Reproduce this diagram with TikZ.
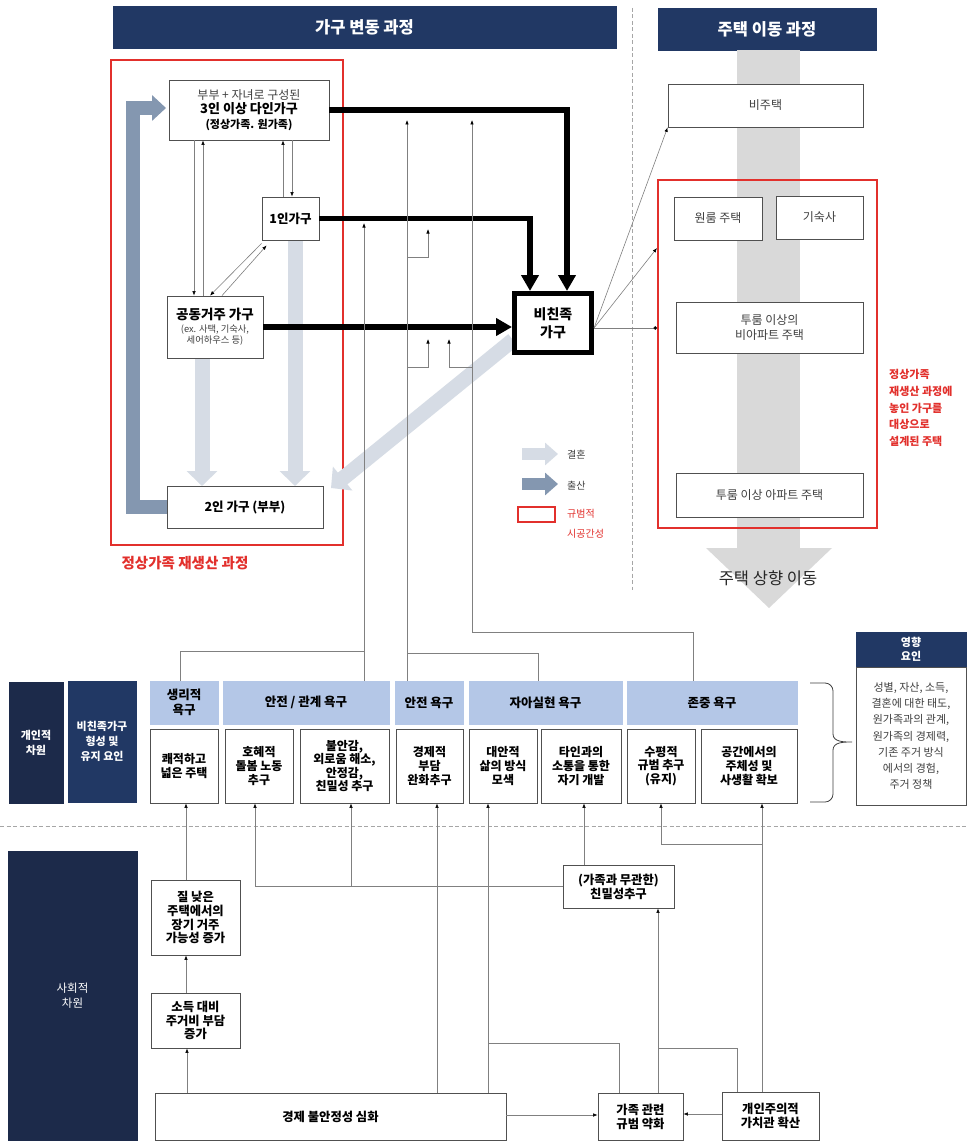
\documentclass[tikz,border=0pt]{standalone}
\usepackage{fontspec}
\setmainfont{Noto Sans CJK KR}
\usetikzlibrary{arrows.meta,calc}
\definecolor{navy}{RGB}{33,56,100}
\definecolor{navyd}{RGB}{28,42,74}
\definecolor{needb}{RGB}{180,199,231}
\definecolor{redc}{RGB}{226,48,44}
\definecolor{lightar}{RGB}{214,220,229}
\definecolor{darkar}{RGB}{132,151,176}
\definecolor{bandg}{RGB}{217,217,217}
\definecolor{linec}{RGB}{128,128,128}
\definecolor{boxd}{RGB}{80,80,80}
\definecolor{txtg}{RGB}{64,64,64}
\begin{document}
\begin{tikzpicture}[x=1pt,y=-1pt,
  sz/.style 2 args={minimum width=#1, minimum height=#2},
  box/.style={draw=boxd, line width=0.8pt, fill=white, align=center, inner sep=1pt, font=\fontsize{12}{13.6}\selectfont\bfseries},
  hbox/.style={draw=boxd, line width=0.8pt, fill=white, align=center, inner sep=1pt, text=txtg, font=\fontsize{12}{15}\selectfont},
  sbox/.style={box, font=\fontsize{12.3}{13.8}\selectfont\bfseries},
  hdr/.style={fill=navy, draw=navy, text=white, align=center, inner sep=0pt, font=\fontsize{16.5}{19}\selectfont\bfseries},
  dark/.style={fill=navyd, draw=navyd, text=white, align=center, inner sep=0pt, font=\fontsize{11}{15}\selectfont\bfseries},
  need/.style={fill=needb, draw=needb, align=center, inner sep=0pt, font=\fontsize{12.5}{14.5}\selectfont\bfseries},
  redbox/.style={draw=redc, line width=2pt, fill=none, inner sep=0pt},
  ln/.style={draw=linec, line width=0.6pt},
  arr/.style={ln, -{Latex[length=4.5pt,width=3.5pt,color=black]}},
  thk/.style={draw=black, line width=5.5pt, line join=miter, -{Triangle[width=17pt,length=16pt]}},
  lar/.style={draw=lightar, line width=15pt, -{Triangle[width=30pt,length=15pt]}},
  dar/.style={draw=darkar, line width=14pt, line join=miter, -{Triangle[width=25pt,length=14pt]}},
  legl/.style={draw=lightar, line width=12pt, -{Triangle[width=22pt,length=13pt]}},
  legd/.style={draw=darkar, line width=12pt, -{Triangle[width=22pt,length=13pt]}},
  lab/.style={inner sep=0pt, font=\fontsize{10}{12}\selectfont}
]
\useasboundingbox (0,0) rectangle (966,1142);
\fill[white] (0,0) rectangle (966,1142);

% ---------- headers ----------
\node[hdr, sz={503pt}{42pt}] (h1) at (364.5,27) {가구 변동 과정};
\node[hdr, sz={218pt}{42pt}] (h2) at (767,29) {주택 이동 과정};
\draw[gray!70, line width=0.9pt, dash pattern=on 4pt off 2.5pt] (632,8) -- (632,590);

% ---------- housing band ----------
\fill[bandg] (737,50) rectangle (800,549);
\fill[bandg] (706,548) -- (832,548) -- (769,608) -- cycle;
\node[font=\fontsize{16.5}{19}\selectfont, text=black!85, inner sep=0pt] (up) at (768,578) {주택 상향 이동};

% ---------- left red region ----------
\node[redbox, sz={232pt}{485pt}] (redl) at (227,302.5) {};
\node[text=redc, font=\fontsize{14.5}{17}\selectfont\bfseries, inner sep=0pt] (redlab) at (185,563) {정상가족 재생산 과정};

% light (marriage) arrows
\draw[lar] (202,358) -- (202,486);
\draw[lar] (295,240) -- (295,486);
\draw[lar] (513,340) -- (331,488);

% dark (birth) arrow
\coordinate (bstart) at (167,507);
\draw[dar] (bstart) -- (133,507) -- (133,108) -- (166,108);

% household nodes
\node[box, sz={160pt}{60pt}] (n3) at (249,110) {{\fontsize{12}{14}\selectfont\mdseries\color{txtg}부부 + 자녀로 구성된}\\[1pt]{\fontsize{13}{15}\selectfont 3인 이상 다인가구}\\[1pt]{\fontsize{11}{13}\selectfont (정상가족. 원가족)}};
\node[box, sz={57pt}{43pt}, font=\fontsize{12.5}{14}\selectfont\bfseries] (n1) at (290.5,218.5) {1인가구};
\node[box, sz={96pt}{62pt}] (nc) at (215,327) {{\fontsize{13.5}{15}\selectfont 공동거주 가구}\\[-1pt]{\fontsize{9.3}{11}\selectfont\mdseries\color{txtg}(ex. 사택, 기숙사,}\\[-2pt]{\fontsize{9.3}{11}\selectfont\mdseries\color{txtg}세어하우스 등)}};
\node[box, sz={156pt}{42pt}, font=\fontsize{12.5}{14}\selectfont\bfseries] (n2) at (245,507) {2인 가구 (부부)};
\node[draw=black, line width=5pt, fill=white, sz={77pt}{59pt}, align=center, inner sep=0pt, font=\fontsize{14}{17.5}\selectfont\bfseries] (nb) at (553,323) {비친족\\가구};

% thin arrows among households
\draw[arr] (194,0 |- n3.south) -- (194,0 |- nc.north);
\draw[arr] (203,0 |- nc.north) -- (203,0 |- n3.south);
\draw[arr] (283,0 |- n1.north) -- (283,0 |- n3.south);
\draw[arr] (292,0 |- n3.south) -- (292,0 |- n1.north);
\draw[arr] ($(nc.north)+(7,0)$) -- ($(n1.south west)+(5,5)$);
\draw[arr] ($(n1.south west)+(0,3)$) -- ($(nc.north)+(-5,0)$);

% thick arrows to non-kin household
\draw[thk] (n3.east) -| ($(nb.north)+(14,0)$);
\draw[thk] (n1.east) -| ($(nb.north)+(-23,0)$);
\draw[thk] (nc.east) -- (nc.east -| nb.west);

% ---------- housing nodes ----------
\node[redbox, sz={219pt}{348pt}] (redh) at (767.5,354) {};
\node[hbox, sz={195pt}{43pt}] (nh1) at (765.5,105.5) {비주택};
\node[hbox, sz={88pt}{43pt}] (nh2) at (718,218.5) {원룸 주택};
\node[hbox, sz={87pt}{43pt}] (nh3) at (819.5,217.5) {기숙사};
\node[hbox, sz={187pt}{51pt}] (nh4) at (769.5,327.5) {투룸 이상의\\비아파트 주택};
\node[hbox, sz={187pt}{44pt}] (nh5) at (769.5,495) {투룸 이상 아파트 주택};
\node[text=redc, align=left, anchor=north west, inner sep=0pt, font=\fontsize{11}{16.8}\selectfont\bfseries] (redtxt) at (889,369) {정상가족\\재생산 과정에\\놓인 가구를\\대상으로\\설계된 주택};

\coordinate (nbo) at ($(nb.east)+(0,5)$);
\draw[arr] (nbo) -- (nh1.south west);
\draw[arr] (nbo) -- (redh.west |- 0,248);
\draw[ln, -{Circle[length=3.5pt,color=black]}] (nbo) -- (redh.west |- nbo);

% ---------- legend ----------
\draw[legl] (522,454) -- (558,454);
\draw[legd] (522,484) -- (558,484);
\node[draw=redc, line width=1.5pt, fill=white, sz={37pt}{15pt}, inner sep=0pt] (legr) at (536.5,514.5) {};
\node[lab, text=txtg, anchor=west] (l1) at (567,455) {결혼};
\node[lab, text=txtg, anchor=west] (l2) at (567,486) {출산};
\node[lab, text=redc, anchor=west] (l3) at (567,514) {규범적};
\node[lab, text=redc, anchor=west] (l4) at (567,534) {시공간성};

% ---------- individual dimension ----------
\node[dark, sz={54pt}{121pt}] (d1) at (36,742.5) {개인적\\차원};
\node[fill=navy, draw=navy, text=white, align=center, inner sep=0pt, font=\fontsize{11}{15}\selectfont\bfseries, sz={68pt}{121pt}] (d2) at (102,741.5) {비친족가구\\형성 및\\유지 요인};

\node[need, sz={68pt}{43pt}] (q1) at (184,702.5) {생리적\\욕구};
\node[need, sz={166pt}{43pt}] (q2) at (306,702.5) {안전 / 관계 욕구};
\node[need, sz={68pt}{43pt}] (q3) at (429,702.5) {안전 욕구};
\node[need, sz={153pt}{43pt}] (q4) at (545.5,702.5) {자아실현 욕구};
\node[need, sz={170pt}{43pt}] (q5) at (712,702.5) {존중 욕구};

\node[box, sz={68pt}{74pt}] (r1) at (184,766) {쾌적하고\\넓은 주택};
\node[box, sz={68pt}{74pt}] (r2) at (259,766) {호혜적\\돌봄 노동\\추구};
\node[box, sz={89pt}{74pt}] (r3) at (344.5,766) {불안감,\\외로움 해소,\\안정감,\\친밀성 추구};
\node[box, sz={67pt}{74pt}] (r4) at (429.5,766) {경제적\\부담\\완화추구};
\node[box, sz={68pt}{74pt}] (r5) at (503,766) {대안적\\삶의 방식\\모색};
\node[box, sz={80pt}{74pt}] (r6) at (581,766) {타인과의\\소통을 통한\\자기 개발};
\node[box, sz={68pt}{74pt}] (r7) at (661,766) {수평적\\규범 추구\\(유지)};
\node[box, sz={96pt}{74pt}] (r8) at (749,766) {공간에서의\\주체성 및\\사생활 확보};

\draw[draw=txtg, line width=0.8pt] (810,683) -- (825,683) to[out=0,in=90] (833,691) -- (833,734) to[out=-90,in=180] (852,742) to[out=180,in=90] (833,750) -- (833,794) to[out=-90,in=0] (825,802) -- (810,802);

\node[fill=navy, draw=navy, text=white, align=center, inner sep=0pt, font=\fontsize{11}{13.5}\selectfont\bfseries, sz={110pt}{35pt}] (e1) at (911,649.5) {영향\\요인};
\node[draw=boxd, line width=0.8pt, fill=white, text=txtg, align=center, inner sep=0pt, font=\fontsize{11}{16.2}\selectfont, sz={110pt}{138pt}] (e2) at (911,736) {성별, 자산, 소득,\\결혼에 대한 태도,\\원가족과의 관계,\\원가족의 경제력,\\기존 주거 방식\\에서의 경험,\\주거 정책};

% needs -> households connectors
\coordinate (a1) at (364,223);
\coordinate (a2) at (407,120);
\coordinate (a3) at (472,120);
\draw[ln] (180,0 |- q1.north) -- (180,651) -- (364,651);
\draw[arr] (364,0 |- q2.north) -- (a1);
\draw[arr] (407,0 |- q3.north) -- (a2);
\draw[ln] (538,0 |- q4.north) -- (538,653) -- (407,653);
\draw[ln] (693,0 |- q5.north) -- (693,632) -- (472,632);
\draw[arr] (472,632) -- (a3);
\draw[arr] (407,257) -- (428,257) -- (428,229);
\draw[arr] (407,367) -- (428,367) -- (428,339);
\draw[arr] (472,367) -- (449,367) -- (449,339);

% ---------- social dimension ----------
\draw[gray!70, line width=1pt, dash pattern=on 4pt off 2.5pt] (0,826) -- (966,826);
\node[dark, sz={129pt}{289pt}, font=\fontsize{11.5}{15}\selectfont] (d3) at (72.5,995.5) {사회적\\차원};

\node[sbox, sz={89pt}{75pt}] (s1) at (195.5,917.5) {질 낮은\\주택에서의\\장기 거주\\가능성 증가};
\node[sbox, sz={89pt}{55pt}] (s2) at (195.5,1020.5) {소득 대비\\주거비 부담\\증가};
\node[sbox, sz={351pt}{47pt}] (s3) at (330.5,1116.5) {경제 불안정성 심화};
\node[sbox, sz={111pt}{43pt}] (s4) at (618.5,886.5) {(가족과 무관한)\\친밀성추구};
\node[sbox, sz={85pt}{47pt}] (s5) at (640.5,1116.5) {가족 관련\\규범 약화};
\node[sbox, sz={97pt}{48pt}] (s6) at (770.5,1116) {개인주의적\\가치관 확산};

\draw[arr] (187,0 |- s3.north) -- (187,0 |- s2.south);
\draw[arr] (186,0 |- s2.north) -- (186,0 |- s1.south);
\draw[arr] (186,0 |- s1.north) -- (186,0 |- r1.south);
\draw[arr] (s4.west) -- (255,0 |- s4.west) -- (255,0 |- r2.south);
\draw[arr] (351,0 |- s4.west) -- (351,0 |- r3.south);
\draw[arr] (437,0 |- s3.north) -- (437,0 |- r4.south);
\draw[arr] (488,0 |- s3.north) -- (488,0 |- r5.south);
\draw[ln] (619,0 |- s5.north) -- (619,1043) -- (488,1043);
\draw[arr] (658,0 |- s5.north) -- (658,0 |- s4.south);
\draw[ln] (737,0 |- s6.north) -- (737,1048) -- (658,1048);
\draw[arr] (584,0 |- s4.north) -- (584,0 |- r6.south);
\draw[arr] (762,0 |- s6.north) -- (762,0 |- r8.south);
\draw[arr] (762,844) -- (661,844) -- (661,0 |- r7.south);
\draw[arr] (s3.east |- 0,1115) -- (s5.west |- 0,1115);
\draw[arr] (s6.west |- 0,1114) -- (s5.east |- 0,1114);
\end{tikzpicture}
\end{document}
